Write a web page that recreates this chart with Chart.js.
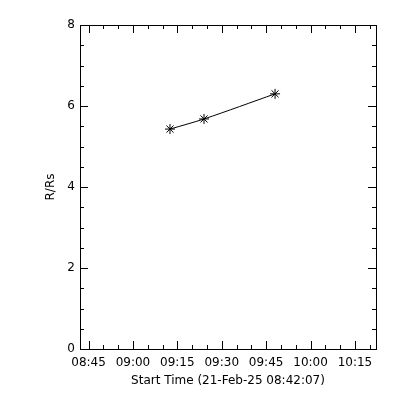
<!DOCTYPE html>
<html>
<head>
<meta charset="utf-8">
<script src="https://cdn.jsdelivr.net/npm/chart.js@4.4.1/dist/chart.umd.min.js"></script>
<style>
  body { margin: 0; background: #fff; }
  canvas { display: block; }
</style>
</head>
<body>
<canvas id="htPlot" width="400" height="400"></canvas>
<script>
// data
const startTime = "08:42:07";
const pointTimes = ["09:12:31", "09:24:01", "09:48:01"];
const radiusVals = [5.43, 5.68, 6.30];
const xTickLabels = ["08:45", "09:00", "09:15", "09:30", "09:45", "10:00", "10:15"];
const yTickVals = [0, 2, 4, 6, 8];

// minutes after the start time
function toMin(t) {
  const p = t.split(":").map(Number);
  const s = startTime.split(":").map(Number);
  return ((p[0] - s[0]) * 3600 + (p[1] - s[1]) * 60 + ((p[2] || 0) - s[2])) / 60;
}

const pts = pointTimes.map((t, i) => ({ x: toMin(t), y: radiusVals[i] }));
const majorX = xTickLabels.map(toMin);

const font = { family: "'DejaVu Sans', sans-serif", size: 12 };

// IDL style box with inward ticks on all sides
const frameTicks = {
  id: "frameTicks",
  afterDraw(chart) {
    const { ctx, chartArea: { left, right, top, bottom }, scales: { x, y } } = chart;
    ctx.save();
    ctx.strokeStyle = "#000";
    ctx.lineWidth = 1;
    ctx.strokeRect(left + 0.5, top + 0.5, right - left, bottom - top);
    ctx.beginPath();
    // x ticks every 5 min, major every 15
    for (let v = majorX[0] - 5; v <= x.max; v += 5) {
      if (v < x.min) continue;
      const px = Math.round(x.getPixelForValue(v)) + 0.5;
      const major = majorX.some(m => Math.abs(m - v) < 0.01);
      const len = major ? 8 : 4;
      ctx.moveTo(px, bottom); ctx.lineTo(px, bottom - len);
      ctx.moveTo(px, top); ctx.lineTo(px, top + len);
    }
    for (let v = 0; v <= 8; v += 0.5) {
      const py = Math.round(y.getPixelForValue(v)) + 0.5;
      const len = v % 2 === 0 ? 8 : 4;
      ctx.moveTo(left, py); ctx.lineTo(left + len, py);
      ctx.moveTo(right, py); ctx.lineTo(right - len, py);
    }
    ctx.stroke();
    ctx.restore();
  }
};

new Chart(document.getElementById("htPlot"), {
  type: "line",
  data: {
    datasets: [{
      data: pts,
      borderColor: "#000",
      borderWidth: 1,
      tension: 0.3,
      pointStyle: "star",
      pointRadius: 5,
      pointBorderColor: "#000",
      pointBorderWidth: 1,
      pointBackgroundColor: "#000"
    }]
  },
  options: {
    responsive: false,
    animation: false,
    devicePixelRatio: 1,
    layout: { padding: { top: 25, right: 24 } },
    plugins: { legend: { display: false }, tooltip: { enabled: false } },
    scales: {
      x: {
        type: "linear",
        min: 0,
        max: 100,
        afterBuildTicks: s => { s.ticks = majorX.map(v => ({ value: v })); },
        afterFit: s => { s.height = 51; },
        grid: { display: false, drawTicks: false },
        border: { display: false },
        ticks: {
          autoSkip: false,
          maxRotation: 0,
          padding: 7,
          color: "#000",
          font: font,
          callback: (v, i) => xTickLabels[i]
        },
        title: {
          display: true,
          text: "Start Time (21-Feb-25 08:42:07)",
          color: "#000",
          font: font,
          padding: { top: 0, bottom: 12 }
        }
      },
      y: {
        min: 0,
        max: 8,
        afterBuildTicks: s => { s.ticks = yTickVals.map(v => ({ value: v })); },
        afterFit: s => { s.width = 80; },
        grid: { display: false, drawTicks: false },
        border: { display: false },
        ticks: { padding: 5, color: "#000", font: font },
        title: {
          display: true,
          text: "R/Rs",
          color: "#000",
          font: font,
          padding: { top: 44, bottom: 0 }
        }
      }
    }
  },
  plugins: [frameTicks]
});
</script>
</body>
</html>
